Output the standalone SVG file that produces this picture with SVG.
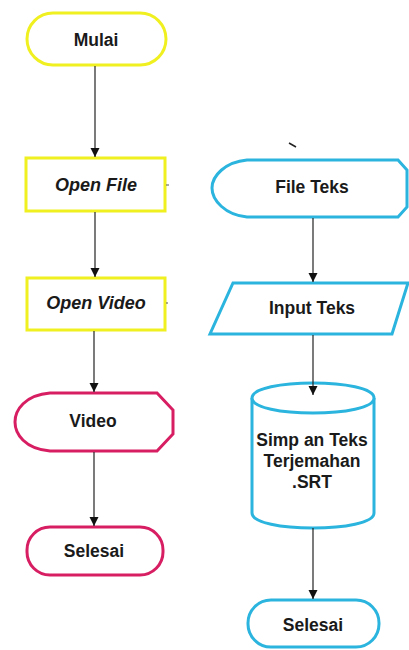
<svg xmlns="http://www.w3.org/2000/svg" width="409" height="650" viewBox="0 0 409 650">
<style>
text{font-family:"Liberation Sans",Arial,sans-serif;font-weight:bold;font-size:17.5px;fill:#1a1a1a;text-anchor:middle;dominant-baseline:central}
.it{font-style:italic;font-size:18px}
.y{fill:#fff;stroke:#f0f020;stroke-width:3}
.p{fill:#fff;stroke:#d81e63;stroke-width:3}
.c{fill:#fff;stroke:#2ab4de;stroke-width:3}
.ln{stroke:#222;stroke-width:1.2;fill:none;marker-end:url(#ah)}
</style>
<defs>
<marker id="ah" markerUnits="userSpaceOnUse" markerWidth="10" markerHeight="10" refX="9" refY="5" orient="auto">
<path d="M0,0.5 L9,5 L0,9.5 Z" fill="#111"/>
</marker>
</defs>
<rect width="409" height="650" fill="#fff"/>
<g id="mulai">
<rect class="y" x="27" y="13" width="139" height="52" rx="26"/>
<text x="96" y="40">Mulai</text>
</g>
<g id="openfile">
<rect class="y" x="26" y="158" width="139" height="53"/>
<text class="it" x="96" y="185">Open File</text>
</g>
<g id="openvideo">
<rect class="y" x="27" y="278" width="138" height="52"/>
<text class="it" x="96" y="303">Open Video</text>
</g>
<g id="video">
<path class="p" d="M50,393 H157 L173,410 V434 L157,451 H50 C25,449 15,434 15,422 C15,410 25,395 50,393 Z"/>
<text x="93" y="421">Video</text>
</g>
<g id="selesai1">
<rect class="p" x="27" y="527" width="136" height="48" rx="23"/>
<text x="94" y="551">Selesai</text>
</g>
<g id="fileteks">
<path class="c" d="M247,160 H398 L407,170 V207 L398,217 H247 C225,215 212,200 212,188 C212,176 225,162 247,160 Z"/>
<text x="312" y="187">File Teks</text>
</g>
<g id="inputteks">
<path class="c" d="M233,283 H408 L392,334 H210 Z"/>
<text x="312" y="308">Input Teks</text>
</g>
<g id="simpan">
<path class="c" d="M252,398 C252,378 374,378 374,398 V513 C374,533 252,533 252,513 Z"/>
<path class="c" d="M252,398 C252,418 374,418 374,398" fill="none"/>
<text x="312" y="440">Simp an Teks</text>
<text x="312" y="461">Terjemahan</text>
<text x="312" y="482">.SRT</text>
</g>
<g id="selesai2">
<rect class="c" x="248" y="600" width="131" height="47" rx="23"/>
<text x="313" y="625">Selesai</text>
</g>
<g id="connectors">
<line class="ln" x1="95" y1="66" x2="95" y2="157"/>
<line class="ln" x1="95" y1="212" x2="95" y2="277"/>
<line class="ln" x1="94" y1="331" x2="94" y2="392"/>
<line class="ln" x1="94" y1="452" x2="94" y2="526"/>
<line class="ln" x1="313" y1="218" x2="313" y2="282"/>
<line class="ln" x1="313" y1="335" x2="313" y2="395"/>
<line class="ln" x1="313" y1="528" x2="313" y2="599"/>
<path d="M289,143 L296,147" stroke="#222" stroke-width="1.5"/>
<line x1="166" y1="185" x2="169" y2="185" stroke="#555" stroke-width="1"/>
<line x1="166" y1="303" x2="168" y2="303" stroke="#555" stroke-width="1"/>
</g>
</svg>
